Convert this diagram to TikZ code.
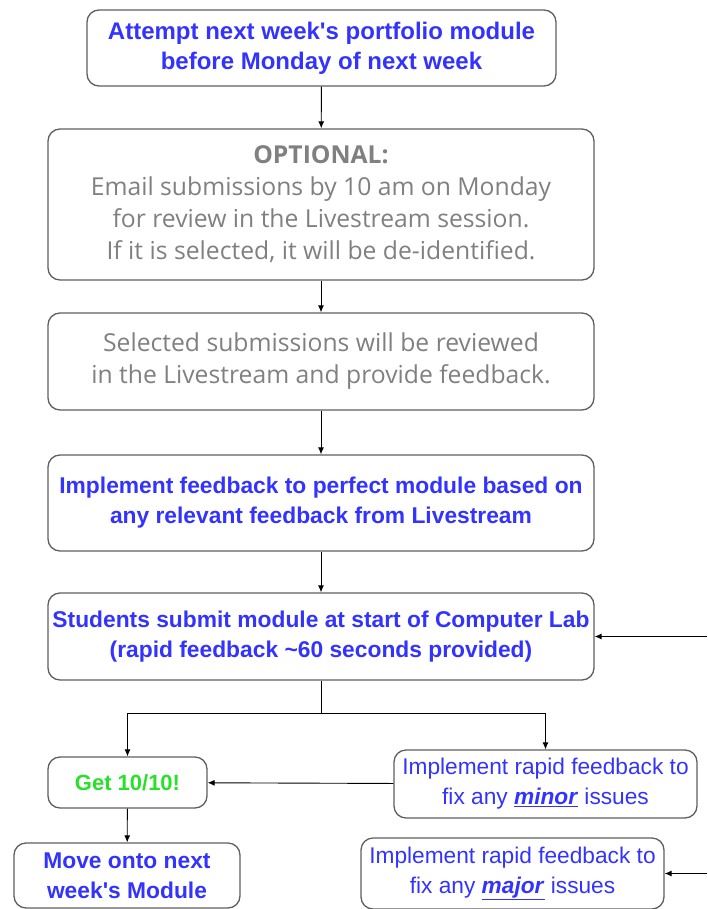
\documentclass[tikz,border=0pt]{standalone}
\usepackage{fontspec}
\setmainfont{Liberation Sans}
\newfontfamily\softfont{Open Sans}
\usetikzlibrary{arrows.meta}
\definecolor{stepblue}{RGB}{51,51,255}
\definecolor{stepgray}{RGB}{128,128,128}
\definecolor{stepgreen}{RGB}{40,225,40}
\definecolor{edgegray}{RGB}{95,95,95}
\tikzset{
  box/.style={draw=edgegray, line width=1.3pt, rounded corners=12pt, align=center, inner sep=0pt},
  boldblue/.style={box, text=stepblue, font=\fontsize{22.8}{30}\selectfont\bfseries},
  plainblue/.style={box, text=stepblue, font=\fontsize{22.7}{30}\selectfont},
  softgray/.style={box, text=stepgray, font=\softfont\fontsize{24.7}{32}\selectfont},
  flow/.style={-{Latex[length=7pt,width=6pt]}, line width=0.9pt}
}
\begin{document}
\begin{tikzpicture}[x=1pt,y=-1pt]
\useasboundingbox (0,0) rectangle (707,909);

\node[boldblue, font=\fontsize{24}{30}\selectfont\bfseries, minimum width=469, minimum height=76] (attempt) at (321.5,48)
  {Attempt next week\textquotesingle s portfolio module\\before Monday of next week};
\node[softgray, minimum width=546, minimum height=151] (optional) at (321,204.5)
  {\textbf{OPTIONAL:}\\Email submissions by 10 am on Monday\\for review in the Livestream session.\\If it is selected, it will be de-identified.};
\node[softgray, minimum width=546, minimum height=97] (selected) at (321,361.5)
  {Selected submissions will be reviewed\\in the Livestream and provide feedback.};
\node[boldblue, minimum width=546, minimum height=96] (implement) at (321,503)
  {Implement feedback to perfect module based on\\any relevant feedback from Livestream};
\node[boldblue, minimum width=546, minimum height=87] (submit) at (321,636.5)
  {Students submit module at start of Computer Lab\\(rapid feedback \textasciitilde60 seconds provided)};
\node[boldblue, text=stepgreen, font=\fontsize{22}{30}\selectfont\bfseries, minimum width=159, minimum height=51] (getten) at (127.5,782.5)
  {Get 10/10!};
\node[plainblue, minimum width=303, minimum height=68] (minor) at (545.5,784)
  {Implement rapid feedback to\\fix any \underline{\textbf{\textit{minor}}} issues};
\node[boldblue, minimum width=226, minimum height=65] (moveon) at (127,875.5)
  {Move onto next\\week\textquotesingle s Module};
\node[plainblue, minimum width=303, minimum height=71] (major) at (512.5,873.5)
  {Implement rapid feedback to\\fix any \underline{\textbf{\textit{major}}} issues};

\coordinate (split) at (321,713);
\coordinate (backone) at (707,636.5);
\coordinate (backtwo) at (707,873.5);

\draw[flow] (attempt) -- (optional);
\draw[flow] (optional) -- (selected);
\draw[flow] (selected) -- (implement);
\draw[flow] (implement) -- (submit);
\draw[line width=0.9pt] (submit) -- (split);
\draw[flow] (split) -| (getten);
\draw[flow] (split) -| (minor.north);
\draw[flow] (minor) -- (getten);
\draw[flow] (getten) -- (moveon);
\draw[flow] (backone) -- (submit);
\draw[flow] (backtwo) -- (major);

\end{tikzpicture}
\end{document}
